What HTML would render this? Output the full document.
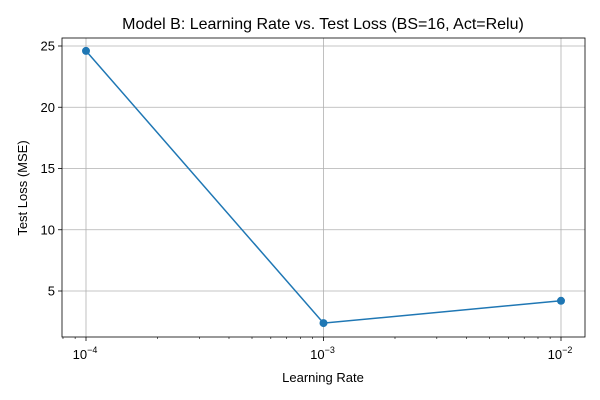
<!DOCTYPE html>
<html><head><meta charset="utf-8"><style>
html,body{margin:0;padding:0;background:#fff;}
svg{display:block;font-family:"Liberation Sans","DejaVu Sans",sans-serif;}
</style></head><body>
<svg id="chart" width="600" height="400" viewBox="0 0 600 400">
<rect x="0" y="0" width="600" height="400" fill="#fff"/>
<g id="grid"></g>
<g id="axes"></g>
<g id="series"></g>
<text x="323" y="29" text-anchor="middle" font-size="16" fill="#000">Model B: Learning Rate vs. Test Loss (BS=16, Act=Relu)</text>
<text x="323" y="382" text-anchor="middle" font-size="13" fill="#000">Learning Rate</text>
<text transform="translate(27,188) rotate(-90)" text-anchor="middle" font-size="13" fill="#000">Test Loss (MSE)</text>
</svg>
<script>
const learningRates = [1e-4, 1e-3, 1e-2];
const testLoss = [24.6, 2.38, 4.2];
const yTicks = [5, 10, 15, 20, 25];
const xDecades = [-4, -3, -2];

const NS = "http://www.w3.org/2000/svg";
const L = 62, R = 585, T = 38, B = 337;
function x(v){ return 86 + 237.5 * (Math.log10(v) + 4); }
function y(v){ return 291 - (v - 5) * 12.25; }
function mk(tag, attrs, parent){
  const e = document.createElementNS(NS, tag);
  for (const k in attrs) e.setAttribute(k, attrs[k]);
  parent.appendChild(e); return e;
}
const grid = document.getElementById('grid');
const axes = document.getElementById('axes');
const series = document.getElementById('series');

yTicks.forEach(t => {
  const yy = y(t);
  const g = mk('line', {x1:L, x2:R, y1:yy, y2:yy, stroke:'#b0b0b0', 'stroke-width':0.8}, grid);
  
  
  mk('line', {x1:L-4, x2:L, y1:yy, y2:yy, stroke:'#000', 'stroke-width':0.8}, axes);
  const lb = mk('text', {x:L-7, y:yy+4.5, 'text-anchor':'end', 'font-size':13, fill:'#000'}, axes);
  lb.textContent = t;
  
  
});
xDecades.forEach(d => {
  const xx = x(Math.pow(10, d));
  const g = mk('line', {x1:xx, x2:xx, y1:T, y2:B, stroke:'#b0b0b0', 'stroke-width':0.8}, grid);
  
  
  mk('line', {x1:xx, x2:xx, y1:B, y2:B+4, stroke:'#000', 'stroke-width':0.8}, axes);
  const lb = mk('text', {x:xx-1, y:B+22, 'text-anchor':'middle', 'font-size':13, fill:'#000'}, axes);
  lb.textContent = '10';
  const sup = mk('tspan', {dy:-6, 'font-size':9}, lb);
  sup.textContent = '\u2212' + Math.abs(d);
  
  
});
for (let d = -5; d <= -2; d++) {
  for (let m = 2; m <= 9; m++) {
    const xx = x(m * Math.pow(10, d));
    if (xx < L || xx > R) continue;
    mk('line', {x1:xx, x2:xx, y1:B, y2:B+2, stroke:'#000', 'stroke-width':0.6}, axes);
  }
}
const frame = mk('rect', {x:L, y:T, width:R-L, height:B-T, fill:'none', stroke:'#000', 'stroke-width':0.8}, axes);



const pts = learningRates.map((v,i) => x(v) + ',' + y(testLoss[i])).join(' ');
const line = mk('polyline', {points:pts, fill:'none', stroke:'#1f77b4', 'stroke-width':1.5}, series);


learningRates.forEach((v,i) => {
  const c = mk('circle', {cx:x(v), cy:y(testLoss[i]), r:4, fill:'#1f77b4'}, series);
  
  
});
</script>
</body></html>
